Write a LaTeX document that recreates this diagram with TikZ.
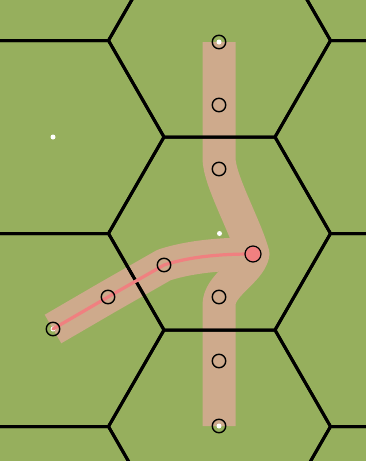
\documentclass[tikz,border=0pt]{standalone}
\definecolor{grass}{RGB}{150,175,93}
\definecolor{dirt}{RGB}{206,170,140}
\definecolor{route}{RGB}{240,128,128}
\tikzset{
  hexline/.style={line width=3pt, black, line join=miter},
  road/.style={line width=33pt, dirt, line cap=butt, line join=round},
  routeline/.style={line width=3.2pt, route, line cap=round},
  waypt/.style={circle, draw=black, line width=1.4pt, minimum size=13.5pt, inner sep=0pt},
  goalpt/.style={circle, draw=black, fill=route, line width=1.2pt, minimum size=16pt, inner sep=0pt},
  centerdot/.style={circle, fill=white, minimum size=5pt, inner sep=0pt}
}
\begin{document}
\begin{tikzpicture}[x=1pt,y=-1pt]
\useasboundingbox (0,0) rectangle (366,461);
\fill[grass] (0,0) rectangle (366,461);
% coordinates of the path points
\coordinate (s) at (53,329);
\coordinate (p1) at (108,297);
\coordinate (p2) at (164,265);
\coordinate (pk) at (253,254);
\coordinate (t0) at (219,42);
\coordinate (t1) at (219,105);
\coordinate (t2) at (219,169);
\coordinate (b1) at (219,297);
\coordinate (b2) at (219,361);
\coordinate (b0) at (219,426);
\coordinate (c1) at (53,137);
\coordinate (c2) at (219.5,233.5);
% roads
\draw[road] (t0) -- (219,158) .. controls (219,180) and (245,225) .. (pk)
  .. controls (249,272) and (219,285) .. (219,305) -- (b0);
\draw[road] (s) -- (p1) -- (p2) .. controls (195,255) and (230,254) .. (pk);
% hex grid
\begin{scope}
\clip (0,0) rectangle (366,461);
\foreach \cx/\cy in {53/-56, 53/137, 53/330, 53/523,
  219.5/-152.5, 219.5/40.5, 219.5/233.5, 219.5/426.5, 219.5/619.5,
  386/-56, 386/137, 386/330, 386/523}{
  \draw[hexline] (\cx+111,\cy) -- (\cx+55.5,\cy+96.5) -- (\cx-55.5,\cy+96.5)
    -- (\cx-111,\cy) -- (\cx-55.5,\cy-96.5) -- (\cx+55.5,\cy-96.5) -- cycle;
}
\end{scope}
% hex centre dots
\node[centerdot] (d1) at (c1) {};
\node[centerdot] (d2) at (c2) {};
\node[centerdot] (d3) at (t0) {};
\node[centerdot] (d4) at (b0) {};
\node[centerdot] (d5) at (s) {};
% route
\draw[routeline] (s) -- (p1) -- (p2) .. controls (195,255) and (230,254) .. (pk);
% waypoints
\node[waypt] (ns) at (s) {};
\node[waypt] (np1) at (p1) {};
\node[waypt] (np2) at (p2) {};
\node[waypt] (nt0) at (t0) {};
\node[waypt] (nt1) at (t1) {};
\node[waypt] (nt2) at (t2) {};
\node[waypt] (nb1) at (b1) {};
\node[waypt] (nb2) at (b2) {};
\node[waypt] (nb0) at (b0) {};
\node[goalpt] (npk) at (pk) {};
\end{tikzpicture}
\end{document}
